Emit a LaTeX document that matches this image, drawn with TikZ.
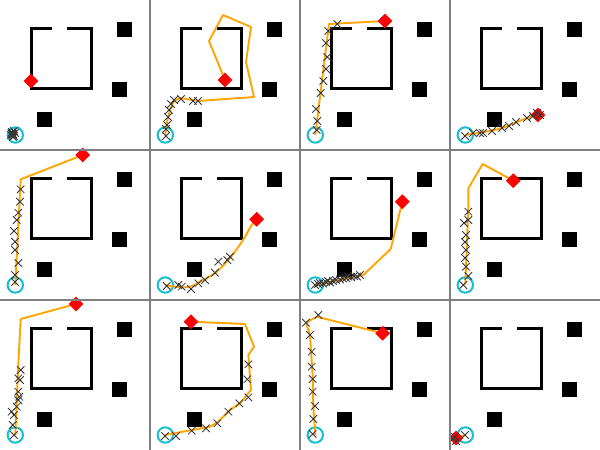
\documentclass[tikz,border=0pt]{standalone}
\usetikzlibrary{shapes.geometric}
\definecolor{startcyan}{RGB}{23,190,207}
\definecolor{routeorange}{RGB}{255,165,0}
\definecolor{crossgray}{RGB}{55,55,55}
\definecolor{gridgray}{RGB}{128,128,128}
\newcommand{\roomenv}{%
  \draw[wall] (52.3,28.5) -- (31.5,28.5) -- (31.5,88.2) -- (91.2,88.2) -- (91.2,28.5) -- (67.3,28.5);
  \fill[block] (117,22.3) rectangle (132,37.3);
  \fill[block] (112.3,82) rectangle (127.3,97);
  \fill[block] (37.3,112.3) rectangle (52.3,127.3);
}
\begin{document}
\begin{tikzpicture}[x=1pt,y=-1pt,
  wall/.style={line width=3.1pt, black, line join=miter},
  block/.style={black},
  start/.style={circle, draw=startcyan, line width=2pt, minimum size=15.4pt, inner sep=0pt},
  goal/.style={diamond, fill=red, minimum width=15pt, minimum height=15pt, inner sep=0pt},
  route/.style={routeorange, line width=1.9pt, line join=round},
  cross/.style={crossgray, line width=0.8pt, mark size=5.3pt},
  gridline/.style={gridgray, line width=2.5pt}]
\fill[white] (0,0) rectangle (600,450);
\useasboundingbox (0,0) rectangle (600,450);

% ---------- panel 1
\begin{scope}[shift={(0,0)}]
  \roomenv
  \node[start] (s1) at (15.3,135) {};
  \coordinate (e1) at (31,81);
  \draw[route] (s1.center) -- (13,134);
  \node[goal] (g1) at (e1) {};
  \draw[cross] plot[only marks, mark=x] coordinates {(13,134) (12,132) (14,136) (11,135) (15,133) (13,137) (12,134) (14,131) (13,135.5) (11.5,133)};
\end{scope}

% ---------- panel 2
\begin{scope}[shift={(150,0)}]
  \roomenv
  \node[start] (s2) at (15.3,135) {};
  \coordinate (e2) at (75,80);
  \draw[route] (s2.center) -- (17,122) -- (20,110) -- (24,101) -- (30,98) -- (48,101) -- (104,97) -- (96,62) -- (101,27) -- (73,15) -- (59,41) -- (e2);
  \node[goal] (g2) at (e2) {};
  \draw[cross] plot[only marks, mark=x] coordinates {(16,136) (16,129) (17,125) (18,117) (19,110) (21,104) (24,100) (31,99) (43,101) (48,101)};
\end{scope}

% ---------- panel 3
\begin{scope}[shift={(300,0)}]
  \roomenv
  \node[start] (s3) at (15.3,135) {};
  \coordinate (e3) at (85,21);
  \draw[route] (s3.center) -- (29,24) -- (e3);
  \node[goal] (g3) at (e3) {};
  \draw[cross] plot[only marks, mark=x] coordinates {(16.7,130) (17.3,121) (16,109) (20.7,93) (23.3,81) (26,69) (27.3,57) (26,43) (28.3,31) (37.3,24)};
\end{scope}

% ---------- panel 4
\begin{scope}[shift={(450,0)}]
  \roomenv
  \node[start] (s4) at (15.3,135) {};
  \coordinate (e4) at (88,115);
  \draw[route] plot[smooth, tension=0.6] coordinates {(15.3,135) (30,132.5) (42,130.5) (55,127) (65,123) (78,117.5) (88,115)};
  \node[goal] (g4) at (e4) {};
  \draw[cross] plot[only marks, mark=x] coordinates {(15,136) (23,133) (30,133) (33,133) (42,131) (52,128) (59,126) (66,122) (77,118) (83,116) (87,113) (90,115)};
\end{scope}

% ---------- panel 5
\begin{scope}[shift={(0,150)}]
  \roomenv
  \node[start] (s5) at (15.3,135) {};
  \coordinate (e5) at (82.7,5);
  \draw[route] (s5.center) -- (20.7,29.3) -- (e5);
  \node[goal] (g5) at (e5) {};
  \draw[cross] plot[only marks, mark=x] coordinates {(20.7,39.3) (20,51.7) (18.3,62.7) (16.7,70) (14,81) (15,91.7) (15,100) (18.3,113) (15,125) (15,132)};
\end{scope}

% ---------- panel 6
\begin{scope}[shift={(150,150)}]
  \roomenv
  \node[start] (s6) at (15.3,135) {};
  \coordinate (e6) at (106.7,69.3);
  \draw[route] plot[smooth, tension=0.6] coordinates {(15.3,135) (27,137) (40,136.7) (50,131.7) (65,123) (80,108) (93,90) (101.7,75) (106.7,69.3)};
  \node[goal] (g6) at (e6) {};
  \draw[cross] plot[only marks, mark=x] coordinates {(16.7,136) (28.3,135) (31.7,136.7) (41,139) (48.3,133.3) (55,130) (65,122.7) (68.3,111.7) (77.3,110) (80,106.7)};
\end{scope}

% ---------- panel 7
\begin{scope}[shift={(300,150)}]
  \roomenv
  \node[start] (s7) at (15.3,135) {};
  \coordinate (e7) at (102.3,51.7);
  \draw[route] (s7.center) -- (63.3,125) -- (90.7,99) -- (e7);
  \node[goal] (g7) at (e7) {};
  \draw[cross] plot[only marks, mark=x] coordinates {(15,135) (18,134) (20,133) (23,133.5) (26,132) (28,131) (30,132.5) (33,131) (36,130) (40,129.5) (43,128.5) (46,128) (48,126.5) (51,127) (54,126) (57,126.5) (60,125)};
\end{scope}

% ---------- panel 8
\begin{scope}[shift={(450,150)}]
  \roomenv
  \node[start] (s8) at (15.3,135) {};
  \coordinate (e8) at (63.3,30.7);
  \draw[route] (s8.center) -- (18.3,58) -- (18.3,38.3) -- (32.7,14) -- (e8);
  \node[goal] (g8) at (e8) {};
  \draw[cross] plot[only marks, mark=x] coordinates {(13.3,135) (18.3,126) (16,116.7) (15,108) (16,100) (15,92) (16,85) (14,73) (18.3,70) (18.3,61.7)};
\end{scope}

% ---------- panel 9
\begin{scope}[shift={(0,300)}]
  \roomenv
  \node[start] (s9) at (15.3,135) {};
  \coordinate (e9) at (76,4);
  \draw[route] (s9.center) -- (18.3,65) -- (20.7,19) -- (e9);
  \node[goal] (g9) at (e9) {};
  \draw[cross] plot[only marks, mark=x] coordinates {(14,135) (12.7,125) (14,115) (11.7,111.7) (16.7,106.7) (18.3,100) (19.3,96.7) (18.3,91.7) (20,80) (18.3,78.3) (20.7,70)};
\end{scope}

% ---------- panel 10
\begin{scope}[shift={(150,300)}]
  \roomenv
  \node[start] (s10) at (15.3,135) {};
  \coordinate (e10) at (41,21.7);
  \draw[route] (s10.center) -- (41.7,130) -- (60,126.7) -- (68.3,121.7) -- (80,110) -- (90,103.3) -- (101,90) -- (98.3,55) -- (104,46.7) -- (95,24) -- (e10);
  \node[goal] (g10) at (e10) {};
  \draw[cross] plot[only marks, mark=x] coordinates {(15,136) (26,136) (41.7,130.7) (56,128.3) (67.3,123.3) (78.3,111.7) (89.3,103.3) (98.3,97.3) (97.3,79.3) (98.3,64.3)};
\end{scope}

% ---------- panel 11
\begin{scope}[shift={(300,300)}]
  \roomenv
  \node[start] (s11) at (15.3,135) {};
  \coordinate (e11) at (82.7,33.3);
  \draw[route] (s11.center) -- (13.3,106.7) -- (12.7,76.7) -- (10,35) -- (6,22.7) -- (16.7,16.7) -- (e11);
  \node[goal] (g11) at (e11) {};
  \draw[cross] plot[only marks, mark=x] coordinates {(12.7,134) (13.3,119) (15,106) (12.7,91.7) (12.7,79) (11.7,66.7) (11.7,51.7) (10,35) (6,22.7) (18.3,15)};
\end{scope}

% ---------- panel 12
\begin{scope}[shift={(450,300)}]
  \roomenv
  \node[start] (s12) at (15.3,135) {};
  \coordinate (e12) at (6,138);
  \draw[route] (s12.center) -- (e12);
  \node[goal] (g12) at (e12) {};
  \draw[cross] plot[only marks, mark=x] coordinates {(5,137) (6,141) (15,135)};
\end{scope}

% ---------- grid lines
\draw[gridline] (150,0) -- (150,450);
\draw[gridline] (300,0) -- (300,450);
\draw[gridline] (450,0) -- (450,450);
\draw[gridline] (0,150) -- (600,150);
\draw[gridline] (0,300) -- (600,300);
\end{tikzpicture}
\end{document}
